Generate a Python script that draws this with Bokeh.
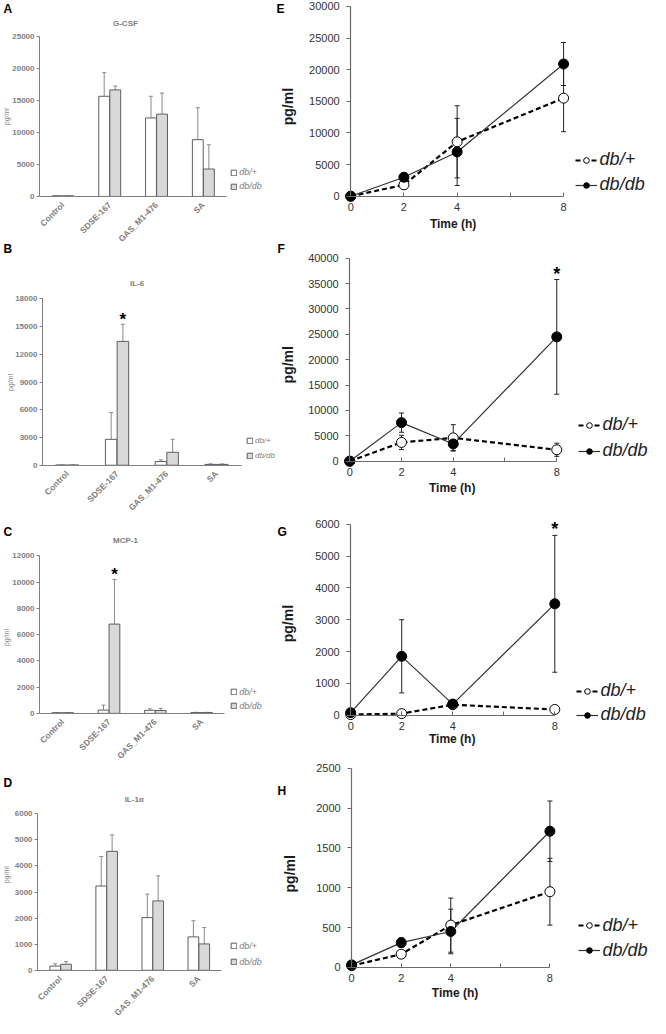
import numpy as np
from math import pi
from bokeh.plotting import figure
from bokeh.layouts import row, column
from bokeh.models import (ColumnDataSource, Whisker, TeeHead, Label, Legend,
                          LegendItem, FixedTicker, Range1d)
from bokeh.core.properties import value
from bokeh.embed import file_html
from bokeh.resources import INLINE

# ---------------- data ----------------
categories = ["Control", "SDSE-167", "GAS_M1-476", "SA"]
series_names = ["db/+", "db/db"]

gcsf_dbp = [100, 15700, 12300, 8900]
gcsf_dbp_err = [0, 3700, 3400, 5000]
gcsf_dbdb = [100, 16700, 12900, 4300]
gcsf_dbdb_err = [0, 600, 3300, 3800]
gcsf_star = [False, False, False, False]

il6_dbp = [20, 2800, 400, 90]
il6_dbp_err = [0, 2900, 180, 60]
il6_dbdb = [20, 13400, 1400, 90]
il6_dbdb_err = [0, 1850, 1400, 50]
il6_star = [False, True, False, False]

mcp1_dbp = [50, 250, 230, 60]
mcp1_dbp_err = [0, 380, 120, 20]
mcp1_dbdb = [50, 6800, 220, 60]
mcp1_dbdb_err = [0, 3400, 160, 20]
mcp1_star = [False, True, False, False]

il1a_dbp = [160, 3230, 2020, 1280]
il1a_dbp_err = [90, 1130, 900, 620]
il1a_dbdb = [230, 4560, 2660, 1010]
il1a_dbdb_err = [100, 630, 960, 630]
il1a_star = [False, False, False, False]

times = [0, 2, 4, 8]
time_ticks = [0, 2, 4, 6, 8]
time_tick_labels = ["0", "2", "4", "", "8"]

gcsf_t_dbp = [0, 1800, 8600, 15500]
gcsf_t_dbp_err = [0, 700, 5700, 5300]
gcsf_t_dbdb = [0, 3000, 7000, 20900]
gcsf_t_dbdb_err = [0, 700, 5300, 3400]
gcsf_t_star = [False, False, False, False]

il6_t_dbp = [0, 3700, 4600, 2250]
il6_t_dbp_err = [0, 1400, 2600, 1300]
il6_t_dbdb = [0, 7600, 3400, 24500]
il6_t_dbdb_err = [0, 1900, 1300, 11300]
il6_t_star = [False, False, False, True]

mcp1_t_dbp = [20, 50, 330, 180]
mcp1_t_dbp_err = [0, 20, 60, 40]
mcp1_t_dbdb = [80, 1850, 350, 3500]
mcp1_t_dbdb_err = [0, 1150, 60, 2150]
mcp1_t_star = [False, False, False, True]

il1a_t_dbp = [20, 165, 530, 950]
il1a_t_dbp_err = [0, 50, 340, 420]
il1a_t_dbdb = [30, 310, 450, 1710]
il1a_t_dbdb_err = [0, 60, 280, 380]
il1a_t_star = [False, False, False, False]

# ---------------- geometry (reference pixel space, scaled to page) ----------------
SX = 650 / 666
SY = 1018 / 1034
FONT = "Liberation Sans"
GRAY = "#808080"
SPLIT = 282


def frame_fig(box, xmap, ymap):
    """Figure whose plotting frame covers the whole box; axes are placed at data
    locations so nothing is drawn outside the frame."""
    fx0, fy0, fx1, fy1 = box
    W = round(fx1 * SX) - round(fx0 * SX)
    H = round(fy1 * SY) - round(fy0 * SY)
    x0, X0, x1, X1 = xmap
    u = (x1 - x0) / (X1 - X0)
    y0, Y0, y1, Y1 = ymap
    v = (y1 - y0) / (Y0 - Y1)
    p = figure(width=W, height=H,
               x_range=Range1d(x0 - (X0 - fx0) * u, x1 + (fx1 - X1) * u),
               y_range=Range1d(y0 - (fy1 - Y0) * v, y1 + (Y1 - fy0) * v),
               output_backend="svg", toolbar_location=None,
               min_border_left=0, min_border_right=0,
               min_border_top=0, min_border_bottom=0)
    p.title.visible = False
    p.outline_line_color = None
    p.xgrid.visible = False
    p.ygrid.visible = False
    p.background_fill_color = "white"
    p.border_fill_color = "white"

    def scr(x, y):
        return (x - fx0) * SX, (fy1 - y) * SY
    return p, scr


def add_label(p, scr, x, y, text, size, style="normal", color="black",
              align="center", baseline="middle", angle=0.0):
    sxp, syp = scr(x, y)
    p.add_layout(Label(x=sxp, y=syp, x_units="screen", y_units="screen",
                       text=text, text_font=FONT, text_font_size=f"{size}px",
                       text_font_style=style, text_color=color,
                       text_align=align, text_baseline=baseline, angle=angle))


def bar_panel(box, X0, X1, Y0, Y1, ymax, ystep, dbp, dbp_e, dbdb, dbdb_e,
              stars, letters, title, title_xy, ylab_xy, leg_xy, leg_font):
    p, scr = frame_fig(box, (0.5, X0, 4.5, X1), (0, Y0, ymax, Y1))
    pos = np.arange(1, len(categories) + 1)
    off, bw = 0.118, 0.232
    src_p = ColumnDataSource(dict(x=pos - off, top=dbp, up=np.add(dbp, dbp_e)))
    src_d = ColumnDataSource(dict(x=pos + off, top=dbdb, up=np.add(dbdb, dbdb_e)))
    for src in (src_p, src_d):
        p.add_layout(Whisker(source=src, base="x", lower="top", upper="up",
                             dimension="height", line_color="#8a8a8a", line_width=1,
                             upper_head=TeeHead(size=4, line_color="#8a8a8a", line_width=1),
                             lower_head=None, level="underlay"))
    r1 = p.vbar(x="x", top="top", bottom=0, width=bw, source=src_p,
                fill_color="white", line_color="#5e5e5e", line_width=1)
    r2 = p.vbar(x="x", top="top", bottom=0, width=bw, source=src_d,
                fill_color="#d9d9d9", line_color="#5e5e5e", line_width=1)
    sx_ = [float(pos[i] + off) for i in range(len(stars)) if stars[i]]
    sy_ = [dbdb[i] + dbdb_e[i] for i in range(len(stars)) if stars[i]]
    if sx_:
        p.text(x=sx_, y=sy_, text=["*"] * len(sx_), text_font=value(FONT),
               text_font_size="17px", text_font_style="bold", text_color="black",
               text_align="center", text_baseline="middle", y_offset=-5)

    ya = p.yaxis[0]
    ya.fixed_location = 0.5
    ya.ticker = FixedTicker(ticks=list(range(0, ymax + 1, ystep)))
    ya.bounds = (0, ymax)
    ya.axis_line_color = GRAY
    ya.major_tick_line_color = GRAY
    ya.major_tick_out = 3
    ya.major_tick_in = 0
    ya.minor_tick_line_color = None
    ya.major_label_standoff = 2
    ya.major_label_text_font = FONT
    ya.major_label_text_font_size = "8px"
    ya.major_label_text_font_style = "bold"
    ya.major_label_text_color = GRAY

    xa = p.xaxis[0]
    xa.fixed_location = 0
    xa.ticker = FixedTicker(ticks=[int(i) for i in pos])
    xa.major_label_overrides = {int(i): c for i, c in zip(pos, categories)}
    xa.major_label_orientation = pi / 4
    xa.bounds = (0.5, 4.5)
    xa.axis_line_color = GRAY
    xa.major_tick_line_color = None
    xa.minor_tick_line_color = None
    xa.major_label_standoff = 1
    xa.major_label_text_font = FONT
    xa.major_label_text_font_size = "8.5px"
    xa.major_label_text_font_style = "bold"
    xa.major_label_text_color = GRAY

    for (txt, lx, ly) in letters:
        add_label(p, scr, lx, ly, txt, 12, "bold", "black", "left", "middle")
    add_label(p, scr, title_xy[0], title_xy[1], title, 8, "bold", GRAY)
    add_label(p, scr, ylab_xy[0], ylab_xy[1], "pg/ml", 7, "normal", GRAY, angle=pi / 2)

    lx, ly1, ly2 = leg_xy
    item_h = 11
    gx, gy = scr(lx, ly2)
    leg = Legend(items=[LegendItem(label=series_names[0], renderers=[r1]),
                        LegendItem(label=series_names[1], renderers=[r2])],
                 location=(gx, gy - item_h / 2), orientation="vertical",
                 glyph_width=7, glyph_height=7, label_height=item_h,
                 label_text_font=FONT, label_text_font_size=f"{leg_font}px",
                 label_text_font_style="italic", label_text_color=GRAY,
                 label_standoff=2, spacing=round((ly2 - ly1) * SY - item_h),
                 padding=0, margin=0, border_line_color=None,
                 background_fill_alpha=0)
    p.add_layout(leg)
    return p


def time_panel(box, X0, X1, Y0, Y1, ymax, ystep, dbp, dbp_e, dbdb, dbdb_e,
               stars, letter, letter_xy, ylab_xy, xlab_xy, leg_xy):
    p, scr = frame_fig(box, (0, X0, 8, X1), (0, Y0, ymax, Y1))
    for vals, errs in ((dbp, dbp_e), (dbdb, dbdb_e)):
        src = ColumnDataSource(dict(x=times, lo=np.subtract(vals, errs),
                                    hi=np.add(vals, errs)))
        p.add_layout(Whisker(source=src, base="x", lower="lo", upper="hi",
                             dimension="height", line_color="#222222", line_width=1,
                             upper_head=TeeHead(size=5, line_color="#222222", line_width=1),
                             lower_head=TeeHead(size=5, line_color="#222222", line_width=1),
                             level="underlay"))
    l1 = p.line(times, dbp, line_color="black", line_width=2.2, line_dash="5 3")
    l2 = p.line(times, dbdb, line_color="#333333", line_width=1.2)
    m1 = p.scatter(times, dbp, size=10, marker="circle", fill_color="white",
                   line_color="black", line_width=1)
    m2 = p.scatter(times, dbdb, size=10, marker="circle", fill_color="black",
                   line_color="black", line_width=1)
    sx_ = [times[i] for i in range(len(stars)) if stars[i]]
    sy_ = [dbdb[i] + dbdb_e[i] for i in range(len(stars)) if stars[i]]
    if sx_:
        p.text(x=sx_, y=sy_, text=["*"] * len(sx_), text_font=value(FONT),
               text_font_size="18px", text_font_style="bold", text_color="black",
               text_align="center", text_baseline="middle", y_offset=-6)

    xa = p.xaxis[0]
    xa.fixed_location = 0
    xa.bounds = (0, 8)
    xa.ticker = FixedTicker(ticks=time_ticks)
    xa.major_label_overrides = {t: s for t, s in zip(time_ticks, time_tick_labels)}
    xa.major_tick_in = 4
    xa.major_tick_out = 0
    xa.minor_tick_line_color = None
    xa.axis_line_color = "#6a6a6a"
    xa.major_tick_line_color = "#6a6a6a"
    xa.axis_line_width = 1.2
    xa.major_label_standoff = 7
    xa.major_label_text_font = FONT
    xa.major_label_text_font_size = "11px"
    xa.major_label_text_color = "#333333"

    ya = p.yaxis[0]
    ya.fixed_location = 0
    ya.bounds = (0, ymax)
    ya.ticker = FixedTicker(ticks=list(range(0, ymax + 1, ystep)))
    ya.major_tick_out = 4
    ya.major_tick_in = 0
    ya.minor_tick_line_color = None
    ya.axis_line_color = "#6a6a6a"
    ya.major_tick_line_color = "#6a6a6a"
    ya.axis_line_width = 1.2
    ya.major_label_standoff = 7
    ya.major_label_text_font = FONT
    ya.major_label_text_font_size = "11px"
    ya.major_label_text_color = "#333333"

    add_label(p, scr, letter_xy[0], letter_xy[1], letter, 12, "bold", "black", "left", "middle")
    add_label(p, scr, ylab_xy[0], ylab_xy[1], "pg/ml", 14, "bold", "#1a1a1a", angle=pi / 2)
    add_label(p, scr, xlab_xy[0], xlab_xy[1], "Time (h)", 12, "bold", "#1a1a1a")

    lx, ly1, ly2 = leg_xy
    item_h = 21
    gx, gy = scr(lx, ly2)
    leg = Legend(items=[LegendItem(label=series_names[0], renderers=[l1, m1]),
                        LegendItem(label=series_names[1], renderers=[l2, m2])],
                 location=(gx, gy - item_h / 2), orientation="vertical",
                 glyph_width=22, glyph_height=14, label_height=item_h,
                 label_text_font=FONT, label_text_font_size="18px",
                 label_text_font_style="italic", label_text_color="#222222",
                 label_standoff=3, spacing=max(0, round((ly2 - ly1) * SY - item_h)),
                 padding=0, margin=0, border_line_color=None,
                 background_fill_alpha=0)
    p.add_layout(leg)
    return p


pA = bar_panel((0, 0, SPLIT, 260), 40, 232, 199, 37, 25000, 5000,
               gcsf_dbp, gcsf_dbp_err, gcsf_dbdb, gcsf_dbdb_err, gcsf_star,
               [("A", 3, 9), ("B", 3, 252)], "G-CSF", (128, 23), (6, 118),
               (236, 175, 189), 9)
pB = bar_panel((0, 260, SPLIT, 520), 43, 247, 472, 303, 18000, 3000,
               il6_dbp, il6_dbp_err, il6_dbdb, il6_dbdb_err, il6_star,
               [], "IL-6", (140, 287), (10, 388), (252, 448, 463), 8)
pC = bar_panel((0, 520, SPLIT, 780), 40, 230, 724, 564, 12000, 2000,
               mcp1_dbp, mcp1_dbp_err, mcp1_dbdb, mcp1_dbdb_err, mcp1_star,
               [("C", 3, 540)], "MCP-1", (128, 548), (6, 647), (236, 703, 717), 9)
pD = bar_panel((0, 780, SPLIT, 1034), 38, 227, 985, 826, 6000, 1000,
               il1a_dbp, il1a_dbp_err, il1a_dbdb, il1a_dbdb_err, il1a_star,
               [("D", 3, 795)], "IL-1\u03b1", (137, 812), (6, 888), (236, 961, 977), 9)

pE = time_panel((SPLIT, 0, 666, 244), 359, 577, 199, 6, 30000, 5000,
                gcsf_t_dbp, gcsf_t_dbp_err, gcsf_t_dbdb, gcsf_t_dbdb_err, gcsf_t_star,
                "E", (283, 9), (295, 108), (464, 227), (589, 163, 188))
pF = time_panel((SPLIT, 244, 666, 515), 358, 570, 468, 262, 40000, 5000,
                il6_t_dbp, il6_t_dbp_err, il6_t_dbdb, il6_t_dbdb_err, il6_t_star,
                "F", (284, 252), (295, 370), (463, 495), (592, 432, 458))
pG = time_panel((SPLIT, 515, 666, 772), 359, 568, 726, 532, 6000, 1000,
                mcp1_t_dbp, mcp1_t_dbp_err, mcp1_t_dbdb, mcp1_t_dbdb_err, mcp1_t_star,
                "G", (284, 540), (295, 633), (463, 750), (590, 702, 726))
pH = time_panel((SPLIT, 772, 666, 1034), 360, 563, 982, 780, 2500, 500,
                il1a_t_dbp, il1a_t_dbp_err, il1a_t_dbdb, il1a_t_dbdb_err, il1a_t_star,
                "H", (284, 803), (297, 887), (466, 1008), (592, 940, 965))

layout = row(column(pA, pB, pC, pD, spacing=0), column(pE, pF, pG, pH, spacing=0), spacing=0)

open("out.html", "w").write(file_html(layout, INLINE))
